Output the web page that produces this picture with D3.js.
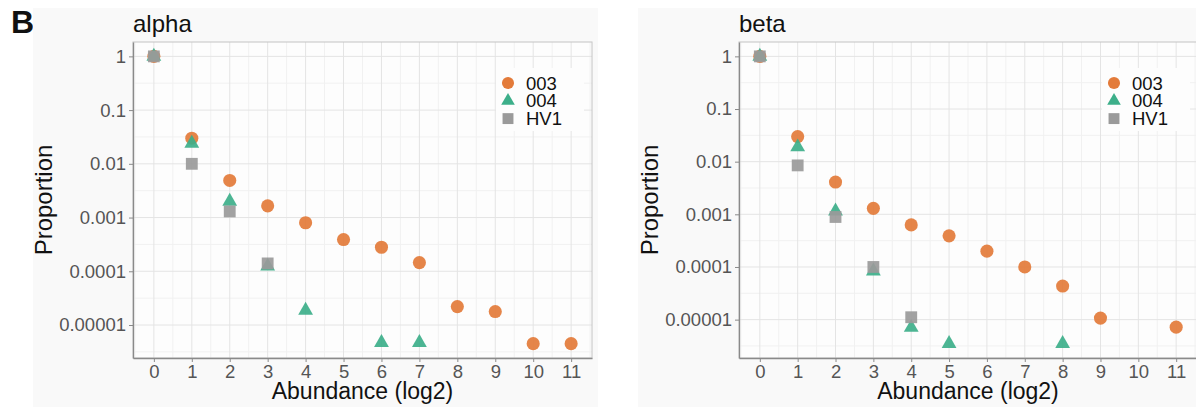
<!DOCTYPE html>
<html>
<head>
<meta charset="utf-8">
<script src="https://cdn.jsdelivr.net/npm/d3@7"></script>
<style>
  body { margin: 0; background: #fff; }
  svg { display: block; font-family: "Liberation Sans", Arial, sans-serif; }
</style>
</head>
<body>
<div id="chart"></div>
<script>
// data
var abundance = [0, 1, 2, 3, 4, 5, 6, 7, 8, 9, 10, 11];
var xTickLabels = ["0", "1", "2", "3", "4", "5", "6", "7", "8", "9", "10", "11"];
var yTickValues = [1, 0.1, 0.01, 0.001, 0.0001, 0.00001];
var yTickLabels = ["1", "0.1", "0.01", "0.001", "0.0001", "0.00001"];
var seriesNames = ["003", "004", "HV1"];
var panelTitles = ["alpha", "beta"];

var alpha003 = [1, 0.03, 0.0049, 0.00165, 0.0008, 0.00039, 0.00028, 0.000145, 0.000022, 0.0000178, 0.0000045, 0.0000045];
var alpha004 = [1, 0.024, 0.002, 0.000124, 0.0000187, null, 0.0000047, 0.0000047, null, null, null, null];
var alphaHV1 = [1, 0.01, 0.0013, 0.00014, null, null, null, null, null, null, null, null];

var beta003 = [1, 0.03, 0.0041, 0.0013, 0.00063, 0.00039, 0.0002, 0.0001, 0.0000435, 0.0000107, null, 0.0000072];
var beta004 = [1, 0.019, 0.00115, 0.0000835, 0.0000071, 0.0000035, null, null, 0.0000035, null, null, null];
var betaHV1 = [1, 0.0085, 0.00089, 0.0001, 0.0000111, null, null, null, null, null, null, null];

// styles
var colors = ["#e37b3a", "#3daf8a", "#9a9a9a"];
var shapes = [d3.symbolCircle, d3.symbolTriangle, d3.symbolSquare];
var shapeSizes = [135, 95, 140];

var svgWidth = 1196;
var svgHeight = 411;

var svg = d3.select("#chart")
  .append("svg")
  .attr("width", svgWidth)
  .attr("height", svgHeight);

// panel layout (plot area rects)
var panels = [
  { title: panelTitles[0], left: 133, right: 592, bgLeft: 33, bgRight: 598, series: [alpha003, alpha004, alphaHV1] },
  { title: panelTitles[1], left: 739, right: 1197, bgLeft: 638, bgRight: 1196, series: [beta003, beta004, betaHV1] }
];
var plotTop = 42, plotBottom = 358;

svg.append("text")
  .attr("x", 11)
  .attr("y", 33)
  .attr("font-size", 32)
  .attr("font-weight", "bold")
  .attr("fill", "#111")
  .text("B");

panels.forEach(function(p) {
  var g = svg.append("g");

  g.append("rect")
    .attr("x", p.bgLeft).attr("y", 8)
    .attr("width", p.bgRight - p.bgLeft).attr("height", 399)
    .attr("fill", "#f9f9f9");

  // log scale with 5% expansion like ggplot
  var all = [];
  p.series.forEach(function(s) { s.forEach(function(v) { if (v != null) all.push(Math.log10(v)); }); });
  var lo = d3.min(all), hi = d3.max(all);
  var pad = (hi - lo) * 0.05;

  var x = d3.scaleLinear().domain([-0.55, 11.55]).range([p.left, p.right]);
  var y = d3.scaleLog().domain([Math.pow(10, lo - pad), Math.pow(10, hi + pad)]).range([plotBottom, plotTop]);

  g.append("rect")
    .attr("x", p.left).attr("y", plotTop)
    .attr("width", p.right - p.left).attr("height", plotBottom - plotTop)
    .attr("fill", "#fdfdfd");

  // minor grid
  var xMinor = d3.range(-0.5, 11.6, 1);
  g.selectAll(".xminor").data(xMinor).enter().append("line")
    .attr("x1", d => x(d)).attr("x2", d => x(d))
    .attr("y1", plotTop).attr("y2", plotBottom)
    .attr("stroke", "#f1f1f1").attr("stroke-width", 1);
  var yMinor = d3.range(0, 6).map(function(i) { return Math.pow(10, -i - 0.5); });
  g.selectAll(".yminor").data(yMinor).enter().append("line")
    .attr("x1", p.left).attr("x2", p.right)
    .attr("y1", d => y(d)).attr("y2", d => y(d))
    .attr("stroke", "#f1f1f1").attr("stroke-width", 1);

  // major grid
  g.selectAll(".xmajor").data(abundance).enter().append("line")
    .attr("x1", d => x(d)).attr("x2", d => x(d))
    .attr("y1", plotTop).attr("y2", plotBottom)
    .attr("stroke", "#e4e4e4").attr("stroke-width", 1);
  g.selectAll(".ymajor").data(yTickValues).enter().append("line")
    .attr("x1", p.left).attr("x2", p.right)
    .attr("y1", d => y(d)).attr("y2", d => y(d))
    .attr("stroke", "#e4e4e4").attr("stroke-width", 1);

  // panel border
  g.append("rect")
    .attr("x", p.left).attr("y", plotTop)
    .attr("width", p.right - p.left).attr("height", plotBottom - plotTop)
    .attr("fill", "none").attr("stroke", "#c4c4c4");

  // axes
  var xAxis = d3.axisBottom(x).tickValues(abundance).tickSize(4).tickSizeOuter(0)
    .tickFormat(function(d, i) { return xTickLabels[i]; });
  var gx = g.append("g").attr("transform", "translate(0," + plotBottom + ")").call(xAxis);
  var yAxis = d3.axisLeft(y).tickValues(yTickValues).tickSize(4).tickSizeOuter(0)
    .tickFormat(function(d, i) { return yTickLabels[i]; });
  var gy = g.append("g").attr("transform", "translate(" + p.left + ",0)").call(yAxis);

  [gx, gy].forEach(function(a) {
    a.select(".domain").attr("stroke", "#8a8a8a").attr("stroke-width", 1.3);
    a.selectAll(".tick line").attr("stroke", "#8a8a8a");
    a.selectAll(".tick text").attr("fill", "#555").attr("font-size", 18.5)
      .attr("font-family", "Liberation Sans, Arial, sans-serif");
  });
  gx.selectAll(".tick text").attr("dy", "0.71em");
  gy.selectAll(".tick text").attr("x", -7);

  // points
  p.series.forEach(function(s, si) {
    var pts = abundance.map(function(a, i) { return { x: a, v: s[i] }; })
      .filter(function(d) { return d.v != null; });
    g.selectAll(".pt" + si).data(pts).enter().append("path")
      .attr("d", d3.symbol().type(shapes[si]).size(shapeSizes[si]))
      .attr("transform", d => "translate(" + x(d.x) + "," + y(d.v) + ")")
      .attr("fill", colors[si])
      .attr("fill-opacity", 0.92);
  });

  // legend
  var lx = p.left + 375, ly = 83;
  g.append("rect")
    .attr("x", lx - 12).attr("y", ly - 15)
    .attr("width", 88).attr("height", 63)
    .attr("fill", "#fdfdfd");
  seriesNames.forEach(function(n, i) {
    g.append("path")
      .attr("d", d3.symbol().type(shapes[i]).size(shapeSizes[i] * 0.85))
      .attr("transform", "translate(" + lx + "," + (ly + i * 17.8) + ")")
      .attr("fill", colors[i]);
    g.append("text")
      .attr("x", lx + 18).attr("y", ly + i * 17.8)
      .attr("dy", "0.36em")
      .attr("font-size", 18.5)
      .attr("fill", "#111")
      .text(n);
  });

  // titles
  g.append("text")
    .attr("x", p.left).attr("y", 32)
    .attr("font-size", 24).attr("fill", "#111")
    .text(p.title);

  g.append("text")
    .attr("transform", "translate(" + (p.left - 81) + "," + ((plotTop + plotBottom) / 2) + ") rotate(-90)")
    .attr("text-anchor", "middle")
    .attr("font-size", 24).attr("fill", "#111")
    .text("Proportion");

  g.append("text")
    .attr("x", (x(0) + x(11)) / 2).attr("y", 399)
    .attr("text-anchor", "middle")
    .attr("font-size", 23).attr("fill", "#111")
    .text("Abundance (log2)");
});
</script>
</body>
</html>
